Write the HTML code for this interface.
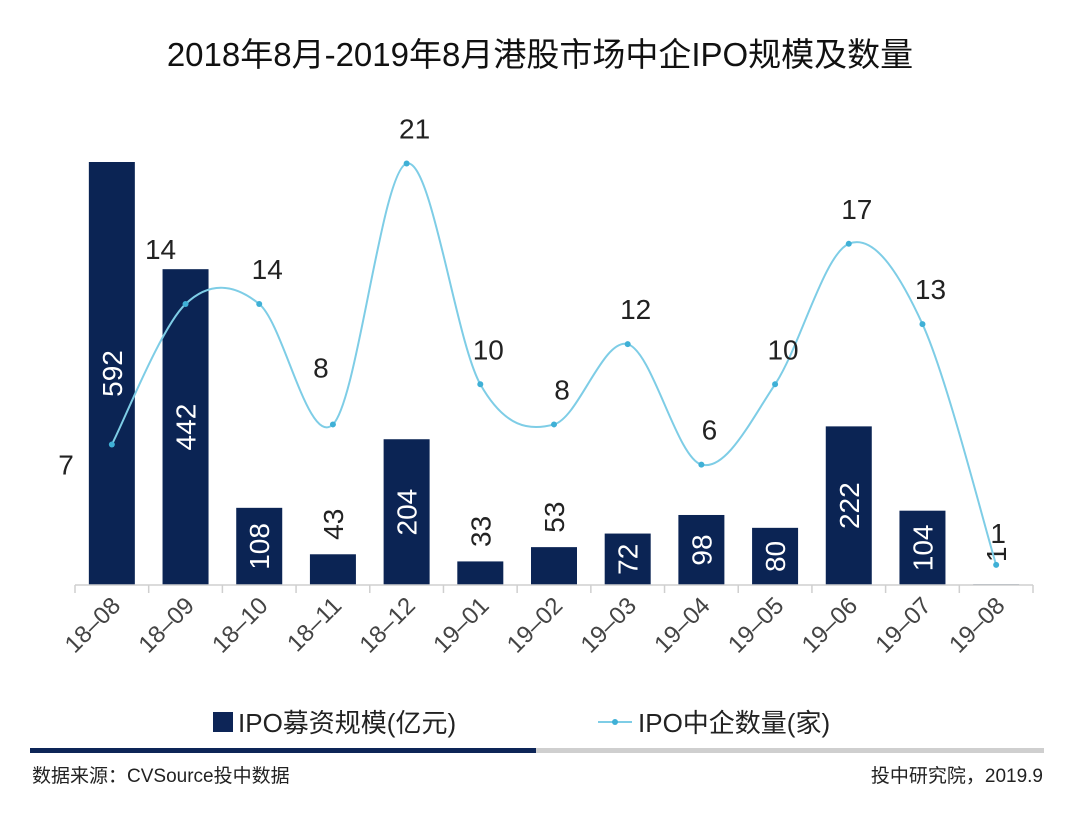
<!DOCTYPE html>
<html><head><meta charset="utf-8"><style>
body{margin:0;background:#fff;}
svg text{font-family:"Liberation Sans","Noto Sans CJK SC",sans-serif;}
</style></head><body>
<svg id="c" width="1080" height="820" xmlns="http://www.w3.org/2000/svg">
<text x="540" y="66" text-anchor="middle" font-size="33" fill="#111">2018年8月-2019年8月港股市场中企IPO规模及数量</text>
<g id="plot"></g>
<g>
<rect x="213" y="712" width="20" height="20" fill="#0d2557"/>
<text x="238" y="732" font-size="26" fill="#222">IPO募资规模(亿元)</text>
<line x1="598" y1="722" x2="632" y2="722" stroke="#7ecde6" stroke-width="2"/>
<circle cx="615" cy="722" r="3" fill="#3fb0d6"/>
<text x="638" y="732" font-size="26" fill="#222">IPO中企数量(家)</text>
</g>
<rect x="30" y="748" width="506" height="5" fill="#0d2557"/>
<rect x="536" y="748" width="508" height="5" fill="#cfcfcf"/>
<text x="32" y="782" font-size="19" fill="#222">数据来源：CVSource投中数据</text>
<text x="1043" y="782" font-size="19" fill="#222" text-anchor="end">投中研究院，2019.9</text>
</svg>
<script>
const categories=["18-08","18-09","18-10","18-11","18-12","19-01","19-02","19-03","19-04","19-05","19-06","19-07","19-08"];
const amounts=[592,442,108,43,204,33,53,72,98,80,222,104,1];
const counts=[7,14,14,8,21,10,8,12,6,10,17,13,1];
const NS="http://www.w3.org/2000/svg";
const g=document.getElementById('plot');
const x0=75,x1=1033,base=585,bw=46;
const step=(x1-x0)/categories.length;
const xc=i=>x0+step*(i+0.5);
const yA=v=>base-v*(423/592);
const yC=v=>base-v*20.07;
function mk(t,a){const e=document.createElementNS(NS,t);for(const k in a)e.setAttribute(k,a[k]);g.appendChild(e);return e;}
amounts.forEach((v,i)=>{
 const r=mk('rect',{x:xc(i)-bw/2,y:yA(v),width:bw,height:base-yA(v),fill:'#0b2454'});
 
 
 const inside=(base-yA(v))>45;
 const cx=xc(i),cy=inside?(yA(v)+base)/2:yA(v)-30;
 const t=mk('text',{x:cx,y:cy+10,'font-size':28,'text-anchor':'middle',fill:inside?'#fff':'#222',transform:`rotate(-90 ${cx} ${cy})`});
 t.textContent=v;
 
 
});
const ax=mk('line',{x1:x0,y1:base,x2:x1,y2:base,stroke:'#cfcfcf','stroke-width':1.5});


for(let i=0;i<=categories.length;i++){
 const tk=mk('line',{x1:x0+step*i,y1:base,x2:x0+step*i,y2:base+8,stroke:'#cfcfcf','stroke-width':1.5});
 
 
}
categories.forEach((c,i)=>{
 const lx=xc(i)+10,ly=base+22;
 const t=mk('text',{x:lx,y:ly,'font-size':24,'text-anchor':'end',fill:'#444',transform:`rotate(-45 ${lx} ${ly})`});
 t.textContent=c.replace('-','–');
 
 
});
const pts=counts.map((v,i)=>[xc(i),yC(v)]);
let d=`M${pts[0][0]},${pts[0][1]}`;
for(let i=0;i<pts.length-1;i++){
 const p0=pts[Math.max(0,i-1)],p1=pts[i],p2=pts[i+1],p3=pts[Math.min(pts.length-1,i+2)];
 const k=1/6;
 d+=` C${p1[0]+(p2[0]-p0[0])*k},${p1[1]+(p2[1]-p0[1])*k} ${p2[0]-(p3[0]-p1[0])*k},${p2[1]-(p3[1]-p1[1])*k} ${p2[0]},${p2[1]}`;
}
const ln=mk('path',{d:d,fill:'none',stroke:'#7ecde6','stroke-width':2});


pts.forEach((p,i)=>{
 const c=mk('circle',{cx:p[0],cy:p[1],r:3,fill:'#3fb0d6'});
 
 
 let lx=p[0]+8,ly=p[1]-25;
 if(i===0){lx=66;ly=p[1]+30;}
 if(i===1){lx=p[0]-25;ly=p[1]-45;}
 if(i===3){ly=p[1]-47;lx=p[0]-12;}
 if(i===12){lx=p[0]+2;ly=p[1]-22;}
 const t=mk('text',{x:lx,y:ly,'font-size':28,'text-anchor':'middle',fill:'#222'});
 t.textContent=counts[i];
 
 
});
</script>
</body></html>
